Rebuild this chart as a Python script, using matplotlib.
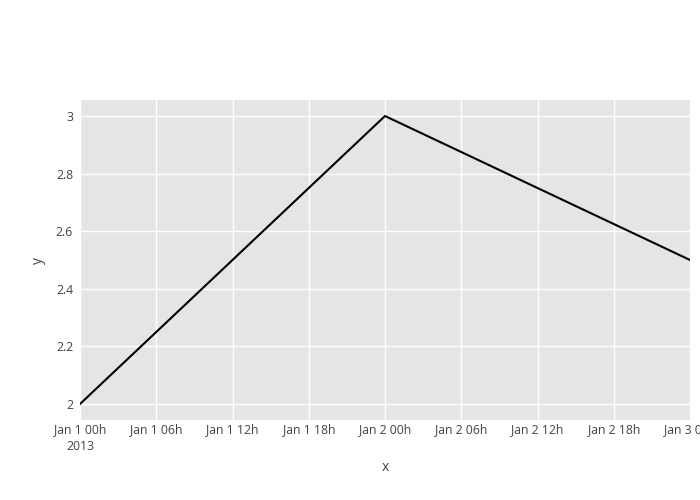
import matplotlib
matplotlib.use("Agg")
import matplotlib.pyplot as plt
from datetime import datetime, timedelta

x_dates = ["2013-01-01 00:00", "2013-01-02 00:00", "2013-01-03 00:00"]
y_vals = [2, 3, 2.5]
y_ticks = [2, 2.2, 2.4, 2.6, 2.8, 3]
y_tick_labels = ["2", "2.2", "2.4", "2.6", "2.8", "3"]
x_tick_labels = ["Jan 1 00h\n2013", "Jan 1 06h", "Jan 1 12h", "Jan 1 18h", "Jan 2 00h",
                 "Jan 2 06h", "Jan 2 12h", "Jan 2 18h", "Jan 3 00h"]

plt.rcParams['font.family'] = ['Open Sans', 'DejaVu Sans']

xs = [datetime.strptime(s, "%Y-%m-%d %H:%M") for s in x_dates]
start = xs[0]
tick_pos = [start + timedelta(hours=6 * i) for i in range(len(x_tick_labels))]

fig = plt.figure(figsize=(7, 5), dpi=100)
ax = fig.add_axes([80 / 700, 80 / 500, 610 / 700, 320 / 500])
ax.set_facecolor("#e5e5e5")
ax.plot(xs, y_vals, color="black", lw=1.5, zorder=3)

ax.set_xlim(xs[0], xs[-1])
pad = 16 / 288
ax.set_ylim(2 - pad, 3 + pad)
ax.set_xticks(tick_pos)
ax.set_xticklabels(x_tick_labels)
ax.set_yticks(y_ticks)
ax.set_yticklabels(y_tick_labels)
ax.grid(True, color="white", lw=1, zorder=1)
ax.set_axisbelow(True)
for s in ax.spines.values():
    s.set_visible(False)
ax.tick_params(axis="both", length=0, labelsize=8.8, colors="#444444")
ax.tick_params(axis="x", pad=2)
ax.tick_params(axis="y", pad=5)
for lab in ax.get_xticklabels():
    lab.set_horizontalalignment("center")
    lab.set_multialignment("center")
    lab.set_linespacing(1.4)

ax.set_xlabel("x", fontsize=10, color="#444444", labelpad=5)
ax.set_ylabel("y", fontsize=10, color="#444444", labelpad=7)

fig.savefig("out.png", dpi=100)
